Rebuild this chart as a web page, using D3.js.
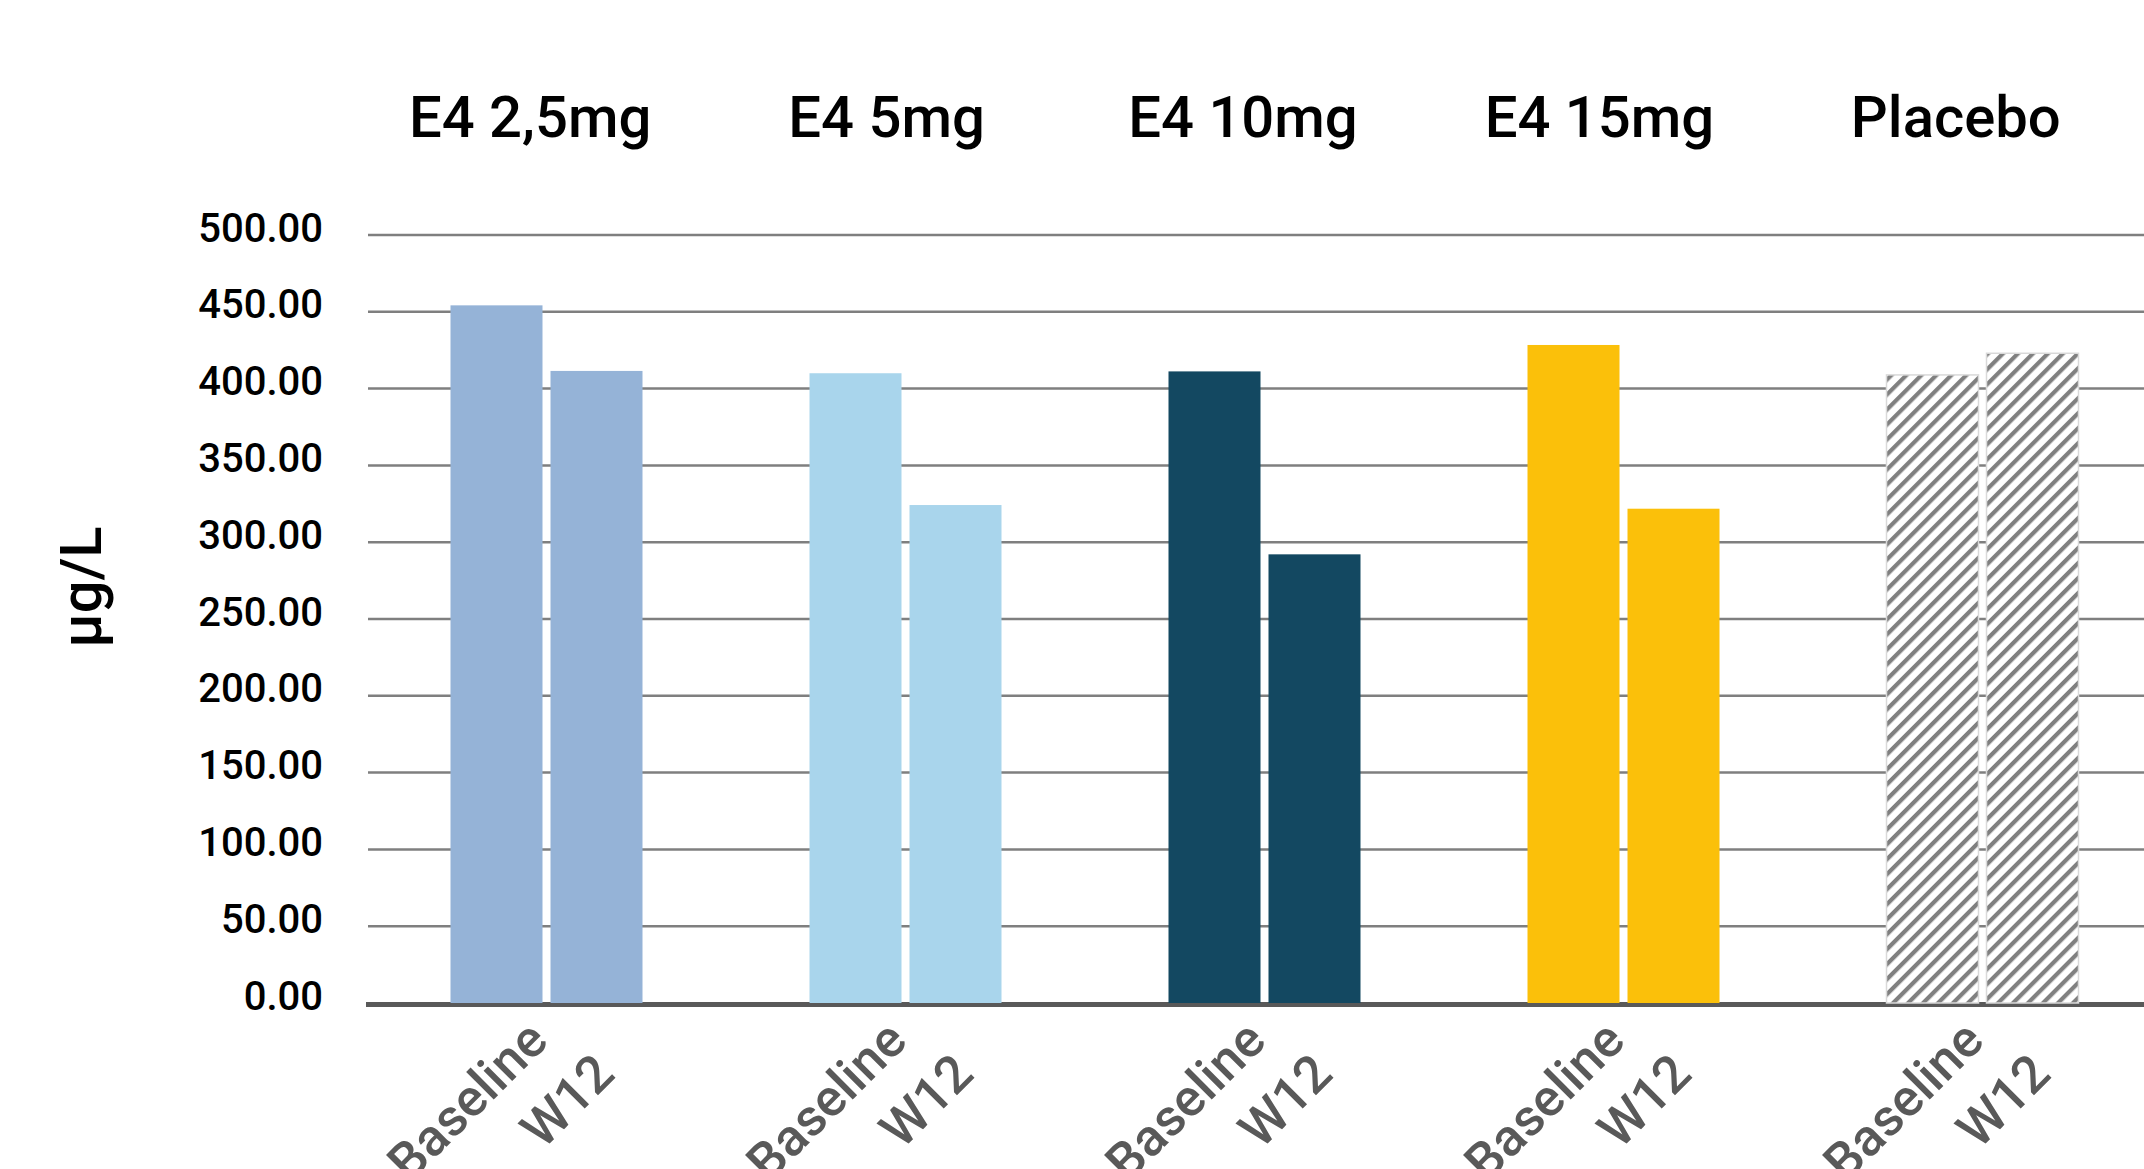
<!DOCTYPE html>
<html>
<head>
<meta charset="utf-8">
<script src="https://cdn.jsdelivr.net/npm/d3@7"></script>
<style>
  html, body { margin: 0; padding: 0; background: #ffffff; overflow: hidden; }
  svg { display: block; }
  text { font-family: Roboto, "Noto Sans", sans-serif; }
</style>
</head>
<body>
<svg id="chart" width="2144" height="1169"></svg>
<script>
// Treatment groups and visit timepoints
const groups = ["E4 2,5mg", "E4 5mg", "E4 10mg", "E4 15mg", "Placebo"];
const timepoints = ["Baseline", "W12"];

// Mean concentration (µg/L) per group, baseline and week 12
const baselineValues = [454.2, 410.0, 411.2, 428.4, 408.9];
const w12Values = [411.5, 324.2, 292.1, 321.8, 423.0];

// Y axis ticks
const yTicks = [0, 50, 100, 150, 200, 250, 300, 350, 400, 450, 500];
const yLabel = "µg/L";

const groupColors = ["#95b3d7", "#a9d5ec", "#134861", "#fbc00a", "url(#placeboHatch)"];

const data = groups.flatMap((g, i) => [
  { group: g, time: timepoints[0], value: baselineValues[i], gi: i },
  { group: g, time: timepoints[1], value: w12Values[i], gi: i }
]);

const svg = d3.select("#chart");

// Diagonal hatch for placebo bars
const defs = svg.append("defs");
const pat = defs.append("pattern")
  .attr("id", "placeboHatch")
  .attr("patternUnits", "userSpaceOnUse")
  .attr("width", 10.6)
  .attr("height", 10.6)
  .attr("patternTransform", "rotate(45)");
pat.append("rect").attr("width", 10.6).attr("height", 10.6).attr("fill", "#ffffff");
pat.append("rect").attr("x", 0).attr("y", 0).attr("width", 4.2).attr("height", 10.6).attr("fill", "#808080");

const y = d3.scaleLinear().domain([0, 500]).range([1003, 235]);
const x0 = d3.scaleBand().domain(groups).range([367, 2162]);
const x1 = d3.scaleBand().domain(timepoints).range([0, x0.bandwidth()])
  .paddingInner(0.08).paddingOuter(0.835);
const titleX = d3.scaleBand().domain(groups).range([352, 2134]);

// Horizontal gridlines
svg.append("g")
  .selectAll("line")
  .data(yTicks.filter(t => t > 0))
  .join("line")
  .attr("x1", 368).attr("x2", 2144)
  .attr("y1", d => y(d)).attr("y2", d => y(d))
  .attr("stroke", "#7f7f7f")
  .attr("stroke-width", 2.5);

// Y axis tick labels
const yAxis = d3.axisLeft(y).tickValues(yTicks).tickFormat(d3.format(".2f")).tickSize(0).tickPadding(0);
const yAxisG = svg.append("g").attr("transform", "translate(323,0)").call(yAxis);
yAxisG.select(".domain").remove();
yAxisG.selectAll("text")
  .attr("font-size", 40)
  .attr("font-weight", 500)
  .attr("fill", "#000")
  .attr("dy", 6)
  .attr("font-family", "Roboto, sans-serif");

// Category baseline
svg.append("line")
  .attr("x1", 366).attr("x2", 2144)
  .attr("y1", y(0) + 1.5).attr("y2", y(0) + 1.5)
  .attr("stroke", "#595959")
  .attr("stroke-width", 5);

// Bars
svg.append("g")
  .selectAll("rect")
  .data(data)
  .join("rect")
  .attr("x", d => x0(d.group) + x1(d.time))
  .attr("y", d => y(d.value))
  .attr("width", x1.bandwidth())
  .attr("height", d => y(0) - y(d.value))
  .attr("fill", d => groupColors[d.gi])
  .attr("stroke", d => d.gi === 4 ? "#d9d9d9" : "none")
  .attr("stroke-width", 1.5);

// Group titles
svg.append("g")
  .selectAll("text")
  .data(groups)
  .join("text")
  .attr("x", d => titleX(d) + titleX.bandwidth() / 2)
  .attr("y", 137)
  .attr("text-anchor", "middle")
  .attr("font-size", 58)
  .attr("font-weight", 500)
  .attr("fill", "#000")
  .text(d => d);

// Rotated timepoint labels under each bar
svg.append("g")
  .selectAll("text")
  .data(data)
  .join("text")
  .attr("transform", d => {
    const cx = x0(d.group) + x1(d.time) + x1.bandwidth() / 2;
    return `translate(${cx - 29},1101) rotate(-45)`;
  })
  .attr("text-anchor", "middle")
  .attr("dominant-baseline", "central")
  .attr("font-size", 52)
  .attr("font-weight", 500)
  .attr("fill", "#595959")
  .text(d => d.time);

// Y axis title
svg.append("text")
  .attr("transform", "translate(81,587) rotate(-90)")
  .attr("text-anchor", "middle")
  .attr("dominant-baseline", "central")
  .attr("font-size", 58)
  .attr("font-weight", 500)
  .attr("fill", "#000")
  .text(yLabel);
</script>
</body>
</html>
